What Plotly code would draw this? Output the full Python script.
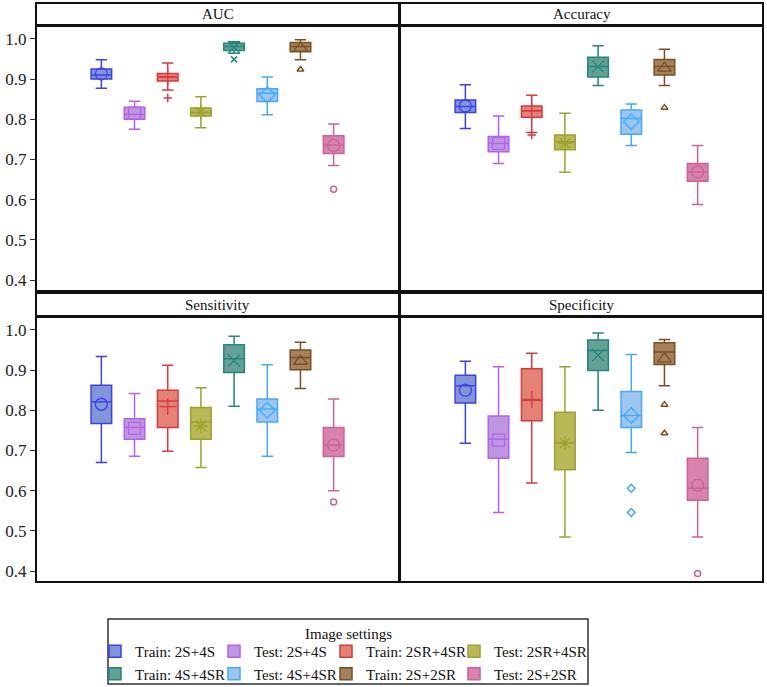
import plotly.graph_objects as go

# groups (image settings)
groups = ["Train: 2S+4S", "Test: 2S+4S", "Train: 2SR+4SR", "Test: 2SR+4SR",
          "Train: 4S+4SR", "Test: 4S+4SR", "Train: 2S+2SR", "Test: 2S+2SR"]
line_colors = ["#3f3fef", "#b462ee", "#d8393f", "#9aa32c",
               "#23877a", "#40aaff", "#7a5022", "#c86496"]
fill_colors = ["rgba(80,110,200,0.72)", "rgba(165,110,210,0.72)", "rgba(220,95,80,0.78)",
               "rgba(165,165,40,0.78)", "rgba(55,135,120,0.78)", "rgba(120,175,230,0.72)",
               "rgba(140,95,45,0.78)", "rgba(205,95,150,0.78)"]
mean_symbols = ["circle-open", "square-open", "cross-thin-open", "asterisk-open",
                "x-thin-open", "diamond-open", "triangle-up-open", "circle-open"]
out_symbols = ["circle-open", "square-open", "cross-thin-open", "asterisk-open",
               "x-thin-open", "diamond-open", "triangle-up-open", "circle-open"]

# AUC
auc_lower = [0.877, 0.775, 0.873, 0.779, 0.964, 0.811, 0.948, 0.685]
auc_q1 = [0.900, 0.800, 0.895, 0.808, 0.971, 0.844, 0.968, 0.715]
auc_med = [0.910, 0.812, 0.905, 0.817, 0.981, 0.865, 0.981, 0.736]
auc_q3 = [0.925, 0.830, 0.914, 0.828, 0.989, 0.876, 0.991, 0.759]
auc_upper = [0.948, 0.845, 0.940, 0.856, 0.993, 0.905, 0.998, 0.788]
auc_mean = [0.913, 0.815, 0.905, 0.818, 0.979, 0.861, 0.977, 0.735]
auc_out = [[], [], [0.853], [], [0.949], [], [0.924], [0.626]]

# Accuracy
acc_lower = [0.777, 0.690, 0.767, 0.668, 0.884, 0.735, 0.884, 0.588]
acc_q1 = [0.817, 0.719, 0.805, 0.724, 0.905, 0.763, 0.910, 0.646]
acc_med = [0.832, 0.740, 0.821, 0.744, 0.931, 0.802, 0.931, 0.669]
acc_q3 = [0.848, 0.757, 0.833, 0.761, 0.954, 0.823, 0.949, 0.690]
acc_upper = [0.886, 0.808, 0.860, 0.815, 0.983, 0.838, 0.974, 0.735]
acc_mean = [0.833, 0.740, 0.821, 0.740, 0.931, 0.794, 0.927, 0.669]
acc_out = [[], [], [0.761], [], [], [], [0.829], []]

# Sensitivity
sen_lower = [0.670, 0.686, 0.698, 0.658, 0.810, 0.686, 0.854, 0.600]
sen_q1 = [0.767, 0.728, 0.757, 0.728, 0.894, 0.771, 0.901, 0.685]
sen_med = [0.821, 0.757, 0.823, 0.771, 0.928, 0.803, 0.931, 0.714]
sen_q3 = [0.862, 0.779, 0.850, 0.807, 0.963, 0.828, 0.950, 0.757]
sen_upper = [0.934, 0.842, 0.912, 0.856, 0.984, 0.913, 0.969, 0.828]
sen_mean = [0.815, 0.755, 0.809, 0.761, 0.924, 0.800, 0.922, 0.714]
sen_out = [[], [], [], [], [], [], [], [0.572]]

# Specificity
spe_lower = [0.718, 0.546, 0.619, 0.485, 0.800, 0.695, 0.861, 0.485]
spe_q1 = [0.818, 0.681, 0.774, 0.652, 0.899, 0.757, 0.914, 0.576]
spe_med = [0.861, 0.728, 0.825, 0.719, 0.949, 0.787, 0.945, 0.606]
spe_q3 = [0.887, 0.786, 0.903, 0.795, 0.975, 0.847, 0.968, 0.681]
spe_upper = [0.922, 0.908, 0.942, 0.908, 0.992, 0.939, 0.976, 0.757]
spe_mean = [0.850, 0.726, 0.827, 0.719, 0.937, 0.787, 0.928, 0.614]
spe_out = [[], [], [], [], [], [0.606, 0.546], [0.814, 0.743], [0.394]]

panels = [
    ("AUC", "x", "y", auc_lower, auc_q1, auc_med, auc_q3, auc_upper, auc_mean, auc_out),
    ("Accuracy", "x2", "y2", acc_lower, acc_q1, acc_med, acc_q3, acc_upper, acc_mean, acc_out),
    ("Sensitivity", "x3", "y3", sen_lower, sen_q1, sen_med, sen_q3, sen_upper, sen_mean, sen_out),
    ("Specificity", "x4", "y4", spe_lower, spe_q1, spe_med, spe_q3, spe_upper, spe_mean, spe_out),
]

W, H = 767, 687
FONT = "Liberation Serif"


def fx(px):
    return px / W


def fy(py):
    return 1 - py / H


fig = go.Figure()
legend_names = ["legend", "legend2", "legend3", "legend4"]

for p_i, (title, xa, ya, lo, q1, med, q3, up, mean, outs) in enumerate(panels):
    for i, g in enumerate(groups):
        fig.add_trace(go.Box(
            x=[g], q1=[q1[i]], median=[med[i]], q3=[q3[i]],
            lowerfence=[lo[i]], upperfence=[up[i]],
            name=g, xaxis=xa, yaxis=ya, width=0.62, whiskerwidth=0.55,
            line=dict(color=line_colors[i], width=1.5), fillcolor=fill_colors[i],
            boxpoints=False, hoverinfo="y",
            showlegend=(p_i == 0), legend=legend_names[i % 4],
            legendrank=i,
        ))
        fig.add_trace(go.Scatter(
            x=[g], y=[mean[i]], mode="markers", xaxis=xa, yaxis=ya, showlegend=False,
            marker=dict(symbol=mean_symbols[i], size=12, color=line_colors[i],
                        line=dict(color=line_colors[i], width=1.3)),
        ))
        if outs[i]:
            fig.add_trace(go.Scatter(
                x=[g] * len(outs[i]), y=outs[i], mode="markers", xaxis=xa, yaxis=ya,
                showlegend=False,
                marker=dict(symbol=out_symbols[i], size=6, color=line_colors[i],
                            line=dict(color=line_colors[i], width=1.5)),
            ))

# panel geometry in pixels
x_cols = [(36, 399), (400, 763)]
rows = [((3, 25), (26, 291)), ((293, 316), (317, 582))]
yrange = [0.373, 1.032]

layout_axes = {}
shapes = []
annotations = []
for p_i, (title, xa, ya, *_rest) in enumerate(panels):
    r, c = divmod(p_i, 2)
    (hx0, hx1) = x_cols[c]
    (head, body) = rows[r]
    xname = "xaxis" if p_i == 0 else "xaxis%d" % (p_i + 1)
    yname = "yaxis" if p_i == 0 else "yaxis%d" % (p_i + 1)
    layout_axes[xname] = dict(
        domain=[fx(hx0), fx(hx1)], anchor=ya, type="category",
        categoryorder="array", categoryarray=groups,
        range=[-1.97, 8.97], showticklabels=False, ticks="",
        showgrid=False, zeroline=False, showline=False, automargin=False,
    )
    layout_axes[yname] = dict(
        domain=[fy(body[1]), fy(body[0])], anchor=xa, range=yrange,
        tickvals=[0.4, 0.5, 0.6, 0.7, 0.8, 0.9, 1.0], tickformat=".1f",
        showticklabels=(c == 0), ticks="outside" if c == 0 else "",
        ticklen=5, tickwidth=1.2, tickcolor="#333",
        tickfont=dict(family=FONT, size=17, color="#222"),
        showgrid=False, zeroline=False, showline=False, automargin=False,
    )
    # header strip
    shapes.append(dict(type="rect", xref="paper", yref="paper",
                       x0=fx(hx0), x1=fx(hx1), y0=fy(head[1]), y1=fy(head[0]),
                       line=dict(color="#111", width=2), fillcolor="white", layer="below"))
    # plot frame
    shapes.append(dict(type="rect", xref="paper", yref="paper",
                       x0=fx(hx0), x1=fx(hx1), y0=fy(body[1]), y1=fy(body[0]),
                       line=dict(color="#111", width=2), layer="above"))
    annotations.append(dict(text=title, xref="paper", yref="paper",
                            x=fx((hx0 + hx1) / 2), y=fy((head[0] + head[1]) / 2),
                            xanchor="center", yanchor="middle", showarrow=False,
                            font=dict(family=FONT, size=15, color="#111")))

# legend box and title
shapes.append(dict(type="rect", xref="paper", yref="paper",
                   x0=fx(108), x1=fx(588), y0=fy(684), y1=fy(619),
                   line=dict(color="#333", width=1.5)))
annotations.append(dict(text="Image settings", xref="paper", yref="paper",
                        x=fx(348), y=fy(634), xanchor="center", yanchor="middle",
                        showarrow=False, font=dict(family=FONT, size=15, color="#111")))

legend_x = [95, 214, 326, 454]
legends = {}
for k, name in enumerate(legend_names):
    legends[name] = dict(
        x=fx(legend_x[k]), y=fy(635), xanchor="left", yanchor="top",
        orientation="v", bgcolor="rgba(0,0,0,0)", borderwidth=0,
        font=dict(family=FONT, size=15, color="#111"), tracegroupgap=0,
        itemwidth=30,
    )

fig.update_layout(
    width=W, height=H,
    margin=dict(l=0, r=0, t=0, b=0, autoexpand=False),
    paper_bgcolor="white", plot_bgcolor="white",
    font=dict(family=FONT),
    boxmode="overlay",
    shapes=shapes, annotations=annotations,
    **layout_axes, **legends,
)

fig.write_html("out.html", post_script="document.body.style.margin='0';",
               config={"displayModeBar": False})
